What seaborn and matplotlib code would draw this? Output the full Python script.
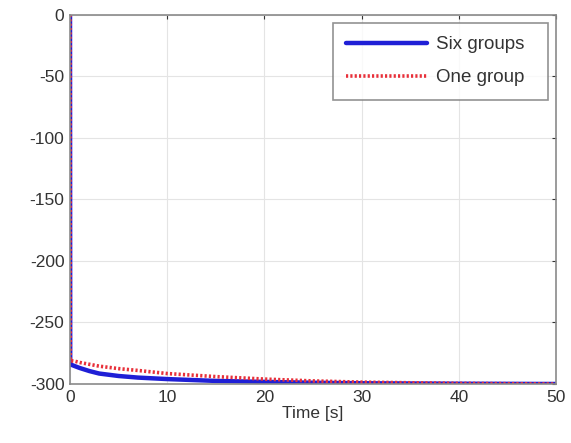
import numpy as np
import pandas as pd
import matplotlib
matplotlib.use("Agg")
import matplotlib.pyplot as plt
import seaborn as sns

time_s = [0, 0.02, 0.5, 1, 2, 3, 5, 7, 10, 15, 20, 25, 30, 40, 50]
six_groups = [0, -284, -285.5, -287, -289.5, -291.5, -293.5, -294.8, -296, -297.5, -298.3, -299, -299.4, -299.8, -300]
one_group = [0, -281, -281.5, -282.5, -284, -285.5, -287.5, -289, -291.5, -294, -296, -297.5, -298.5, -299.5, -300]

sns.set_style("white")
plt.rcParams["font.family"] = ["Liberation Sans", "DejaVu Sans"]
plt.rcParams["axes.unicode_minus"] = False

df = pd.DataFrame({
    "Time [s]": time_s * 2,
    "value": six_groups + one_group,
    "series": ["Six groups"] * len(time_s) + ["One group"] * len(time_s),
})

fig = plt.figure(figsize=(5.71, 4.43), dpi=100)
ax = fig.add_axes([0.1226, 0.1332, 0.8511, 0.8330])

sns.lineplot(data=df[df["series"] == "Six groups"], x="Time [s]", y="value",
             color="#1f1fd6", linewidth=3.2, label="Six groups  ", ax=ax)
sns.lineplot(data=df[df["series"] == "One group"], x="Time [s]", y="value",
             color="#e8303a", linewidth=2.6, linestyle=(0, (0.6, 0.6)),
             label="One group  ", ax=ax)

ax.set_xlim(0, 50)
ax.set_ylim(-300, 0)
ax.set_xticks([0, 10, 20, 30, 40, 50])
ax.set_yticks([0, -50, -100, -150, -200, -250, -300])
ax.grid(True, color="#e4e4e4", linewidth=0.8)
ax.tick_params(direction="in", length=3, labelsize=12.5, colors="#333333",
               top=True, right=True, pad=4)
for s in ax.spines.values():
    s.set_color("#8a8a8a")
    s.set_linewidth(1.2)
ax.set_xlabel("Time [s]", fontsize=12.5, color="#333333", labelpad=1)
ax.set_ylabel("")

leg = ax.legend(loc="upper right", fontsize=13.5, frameon=True, fancybox=False,
                edgecolor="#777777", handlelength=4.3, handletextpad=0.5,
                borderpad=0.7, labelspacing=0.85, borderaxespad=0,
                bbox_to_anchor=(0.9835, 0.978))
leg.get_frame().set_linewidth(1.2)
for t in leg.get_texts():
    t.set_color("#333333")

fig.savefig("out.png", dpi=100)
